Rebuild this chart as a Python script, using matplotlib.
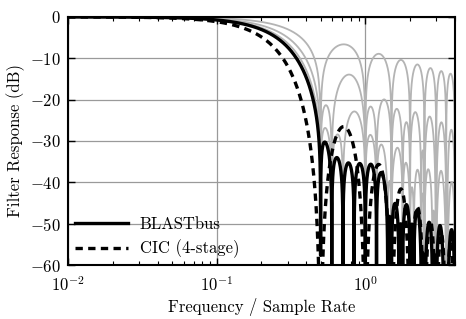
import numpy as np
import matplotlib
matplotlib.use("Agg")
import matplotlib.pyplot as plt

plt.rcParams['font.family'] = 'serif'
plt.rcParams['font.serif'] = ['cmr10']
plt.rcParams['mathtext.fontset'] = 'cm'
plt.rcParams['axes.formatter.use_mathtext'] = True
plt.rcParams['font.size'] = 12

# boxcar stages: first null of each (frequency / sample rate)
blast_nulls = [0.5, 0.5946, 0.7071, 0.8409]
cic_null = 0.5
cic_stages = 4

x_range = (0.01, 4.0)
y_ticks = [0, -10, -20, -30, -40, -50, -60]

freq = np.logspace(np.log10(x_range[0]), np.log10(x_range[1]), 40000)

def to_db(h):
    return 10 * np.log10(np.abs(h) + 1e-300)

fig = plt.figure(figsize=(4.66, 3.19), dpi=100)
ax = fig.add_axes([0.146, 0.169, 0.830, 0.778])

# partial products of the BLASTbus stages (grey)
h = np.ones_like(freq)
for n in blast_nulls[:-1]:
    h = h * np.sinc(freq / n)
    ax.plot(freq, to_db(h), color='#b4b4b4', lw=1.3, zorder=2)

h_blast = np.ones_like(freq)
for n in blast_nulls:
    h_blast = h_blast * np.sinc(freq / n)
h_cic = np.sinc(freq / cic_null) ** cic_stages

ax.plot(freq, to_db(h_blast), color='black', lw=2.4, label='BLASTbus', zorder=3)
ax.plot(freq, to_db(h_cic), color='black', lw=2.4, ls=(0, (2.2, 1.6)),
        label='CIC (4-stage)', zorder=4)

ax.set_xscale('log')
ax.set_xlim(*x_range)
ax.set_ylim(-60, 0)
ax.set_yticks(y_ticks)
ax.grid(True, which='major', color='#9a9a9a', lw=0.9)
ax.set_axisbelow(True)
ax.tick_params(which='both', direction='in', top=True, right=True)
ax.tick_params(which='major', length=5, width=1)
ax.tick_params(which='minor', length=3, width=0.8)
ax.tick_params(axis='x', which='major', pad=7)
ax.tick_params(axis='y', which='major', pad=5)
for s in ax.spines.values():
    s.set_linewidth(1.5)

ax.set_xlabel('Frequency / Sample Rate', fontsize=12, labelpad=3)
ax.set_ylabel('Filter Response (dB)', fontsize=12, labelpad=4)

leg = ax.legend(loc='lower left', frameon=False, handlelength=3.2,
                borderaxespad=0.1, borderpad=0.3, labelspacing=0.45,
                handletextpad=0.7)

plt.savefig('out.png', dpi=100)
